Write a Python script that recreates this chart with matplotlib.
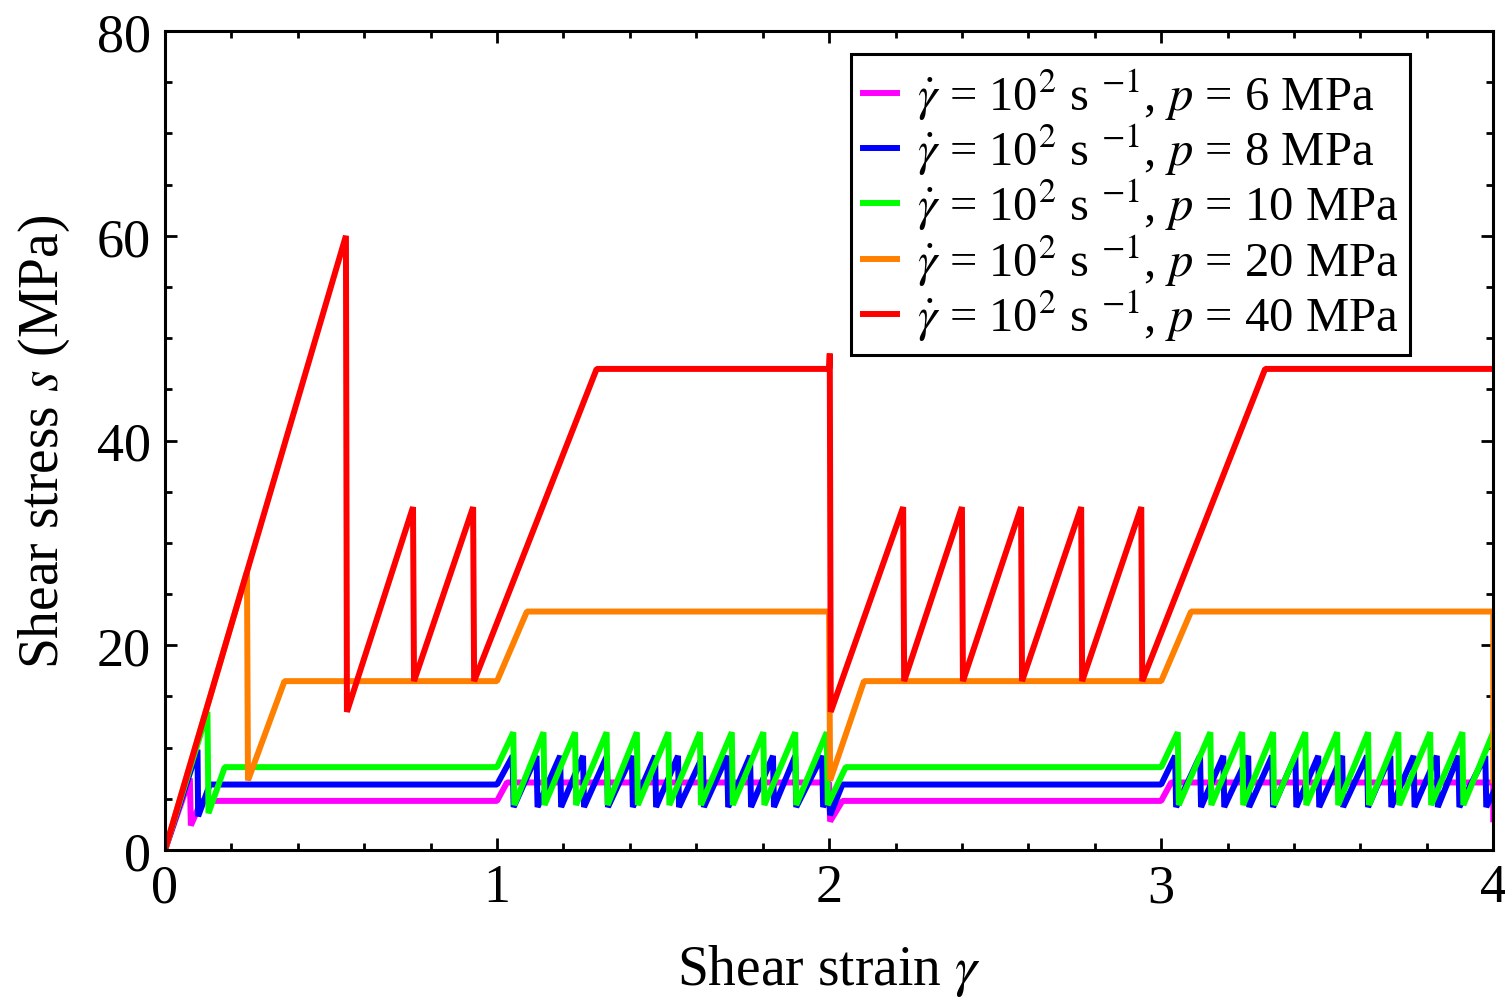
import matplotlib
matplotlib.use("Agg")
import matplotlib.pyplot as plt
import numpy as np

plt.rcParams["font.family"] = ["Liberation Serif", "DejaVu Serif"]
plt.rcParams["mathtext.fontset"] = "stix"

# ---- series data: vertices of each stress-strain curve (strain, stress MPa) ----
# p = 6 MPa
mag_x = [0.0, 0.075, 0.078, 0.11, 1.00, 1.03, 2.00, 2.003, 2.04, 3.00, 3.03, 4.00, 4.00]
mag_y = [0.0, 7.0, 2.4, 4.8, 4.8, 6.6, 6.6, 2.8, 4.8, 4.8, 6.6, 6.6, 3.0]

# p = 8 MPa : loading branch, then stick-slip drops
blue_start_x = [0.0, 0.098, 0.100, 0.135, 1.00]
blue_start_y = [0.0, 9.8, 3.3, 6.4, 6.4]
blue_drops_a = [1.047, 1.119, 1.190, 1.259, 1.331, 1.406, 1.476, 1.545, 1.620,
                1.693, 1.762, 1.831, 1.898, 1.979]
blue_mid_x = [2.000, 2.003, 2.04, 3.00]
blue_mid_y = [5.6, 3.4, 6.4, 6.4]
blue_drops_b = [3.042, 3.117, 3.187, 3.262, 3.334, 3.404, 3.473, 3.545, 3.620,
                3.690, 3.760, 3.830, 3.895, 3.976]
blue_end_x = [4.00]
blue_end_y = [5.6]
blue_peak, blue_trough = 9.2, 4.2

# p = 10 MPa
green_start_x = [0.0, 0.128, 0.131, 0.18, 1.00]
green_start_y = [0.0, 13.5, 3.6, 8.1, 8.1]
green_drops_a = [1.049, 1.140, 1.235, 1.330, 1.421, 1.516, 1.611, 1.707, 1.802,
                 1.898, 1.993]
green_mid_x = [2.05, 3.00]
green_mid_y = [8.1, 8.1]
green_drops_b = [3.050, 3.148, 3.244, 3.337, 3.434, 3.530, 3.623, 3.714, 3.810,
                 3.907]
green_end_x = [4.00]
green_end_y = [11.5]
green_peak, green_trough = 11.5, 4.4

# p = 20 MPa
orange_x = [0.0, 0.247, 0.250, 0.36, 1.00, 1.09, 2.00, 2.003, 2.105, 3.00, 3.09, 4.00, 4.00]
orange_y = [0.0, 27.2, 6.8, 16.5, 16.5, 23.3, 23.3, 6.8, 16.5, 16.5, 23.3, 23.3, 6.8]

# p = 40 MPa
red_x = [0.0, 0.545, 0.548, 0.747, 0.750, 0.928, 0.931, 1.30, 2.00, 2.002, 2.005,
         2.223, 2.226, 2.400, 2.403, 2.578, 2.581, 2.759, 2.762, 2.940, 2.943,
         3.313, 4.00]
red_y = [0.0, 60.0, 13.5, 33.5, 16.5, 33.5, 16.5, 47.0, 47.0, 48.5, 13.5,
         33.5, 16.5, 33.5, 16.5, 33.5, 16.5, 33.5, 16.5, 33.5, 16.5,
         47.0, 47.0]

pressures = [6, 8, 10, 20, 40]
colors = ["#FF00FF", "#0000FF", "#00FF00", "#FF8000", "#FF0000"]


def with_teeth(x0, y0, drops, peak, trough):
    """Append stick-slip teeth: climb to `peak` at each drop strain, fall to `trough`."""
    xs, ys = list(x0), list(y0)
    for d in drops:
        xs += [d, d + 0.003]
        ys += [peak, trough]
    return xs, ys


bx, by = with_teeth(blue_start_x, blue_start_y, blue_drops_a, blue_peak, blue_trough)
bx2, by2 = with_teeth(blue_mid_x, blue_mid_y, blue_drops_b, blue_peak, blue_trough)
blue_x = bx + bx2 + blue_end_x
blue_y = by + by2 + blue_end_y

gx, gy = with_teeth(green_start_x, green_start_y, green_drops_a, green_peak, green_trough)
gx2, gy2 = with_teeth(green_mid_x, green_mid_y, green_drops_b, green_peak, green_trough)
green_x = gx + gx2 + green_end_x
green_y = gy + gy2 + green_end_y

series = [(mag_x, mag_y), (blue_x, blue_y), (green_x, green_y),
          (orange_x, orange_y), (red_x, red_y)]

fig = plt.figure(figsize=(15.05, 10.03), dpi=100)
ax = fig.add_axes([0.1096, 0.1515, 0.8826, 0.8165])

for (xs, ys), p, c in zip(series, pressures, colors):
    ax.plot(xs, ys, color=c, lw=4.3, solid_joinstyle="bevel",
            label=r"$\dot{\gamma}$ = 10$^{2}$ s $^{-1}$, $p$ = %d MPa" % p)

ax.set_xlim(0, 4)
ax.set_ylim(0, 80)
ax.set_xticks([0, 1, 2, 3, 4])
ax.set_xticks(np.arange(0, 4.01, 0.2), minor=True)
ax.set_yticks([0, 20, 40, 60, 80])
ax.set_yticks(np.arange(0, 80.1, 5), minor=True)

for s in ax.spines.values():
    s.set_linewidth(2.2)

ax.tick_params(which="both", direction="in", top=True, right=True,
               width=2.0, labelsize=39)
ax.tick_params(which="major", length=8.5)
ax.tick_params(which="minor", length=5)
ax.tick_params(axis="x", pad=9)
ax.tick_params(axis="y", pad=10)

ax.set_xlabel(r"Shear strain $\gamma$", fontsize=40, labelpad=21)
ax.set_ylabel(r"Shear stress $s$ (MPa)", fontsize=40, labelpad=18)

leg = ax.legend(loc="upper right", bbox_to_anchor=(0.9375, 0.972),
                borderaxespad=0, fontsize=35, handlelength=0.7,
                handletextpad=0.4, labelspacing=0.0, borderpad=0.25,
                fancybox=False, framealpha=1, edgecolor="black")
leg.get_frame().set_linewidth(2.2)

fig.savefig("out.png", dpi=100)
